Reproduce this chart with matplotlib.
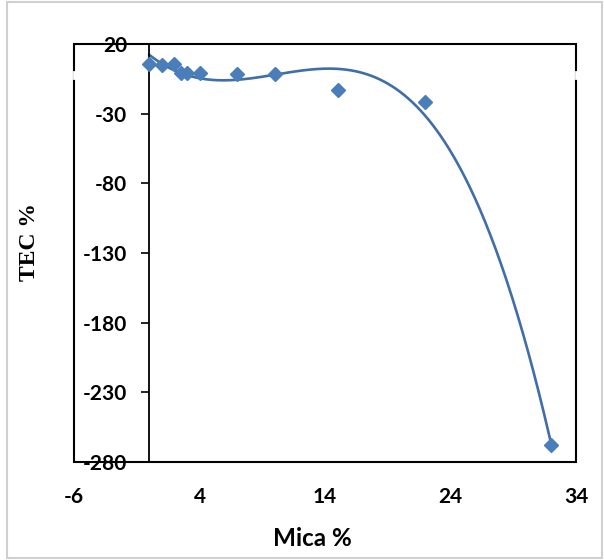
import numpy as np
import matplotlib.pyplot as plt
from matplotlib.patches import Rectangle

# data
mica = [0, 1, 2, 2.5, 3, 4, 7, 10, 15, 22, 32]
tec = [5.5, 5.0, 5.5, -0.5, -1.0, -1.0, -1.5, -1.5, -13.0, -21.5, -268.0]

x_ticks = [-6, 4, 14, 24, 34]
y_ticks = [20, -30, -80, -130, -180, -230, -280]

BLUE = "#4a7ebb"
LINE_BLUE = "#3f6ea8"


def plot_tec():
    fig = plt.figure(figsize=(6.04, 5.60), dpi=100)
    ax = fig.add_axes([74 / 604, 1 - 462 / 560, 502 / 604, 418 / 560])

    # polynomial trendline (like the spreadsheet one)
    coef = np.polyfit(mica, tec, 3)
    xs = np.linspace(min(mica), max(mica), 300)
    ax.plot(xs, np.polyval(coef, xs), color=LINE_BLUE, lw=1.9, zorder=2)

    ax.plot(mica, tec, linestyle="none", marker="D", markersize=7,
            color=BLUE, markeredgecolor=BLUE, zorder=3)

    ax.set_xlim(-6, 34)
    ax.set_ylim(-280, 20)
    ax.set_xticks(x_ticks)
    ax.set_yticks(y_ticks)
    ax.set_xticklabels([str(v) for v in x_ticks])
    ax.set_yticklabels([str(v) for v in y_ticks])

    # y axis crosses at x = 0, frame drawn around the plot area
    for s in ["top", "right", "bottom"]:
        ax.spines[s].set_visible(False)
    ax.spines["left"].set_position(("data", 0))
    ax.spines["left"].set_linewidth(1.3)
    ax.add_patch(Rectangle((0, 0), 1, 1, transform=ax.transAxes, fill=False,
                           edgecolor="black", lw=1.5, clip_on=False, zorder=4))
    # small white gaps where the hidden horizontal axis meets the frame
    ax.plot([-6, -6], [-4.5, 0], color="white", lw=2, clip_on=False, zorder=5)
    ax.plot([34, 34], [-4.5, 0], color="white", lw=2, clip_on=False, zorder=5)

    ax.tick_params(axis="y", direction="out", length=6, width=1.2, pad=10,
                   labelsize=15)
    ax.tick_params(axis="x", length=0, pad=18, labelsize=15)
    for lab in ax.get_xticklabels() + ax.get_yticklabels():
        lab.set_fontfamily("Lato")
        lab.set_fontweight("bold")

    fig.text(312 / 604, 1 - 538 / 560, "Mica %", ha="center", va="center",
             fontfamily="Lato", fontweight="bold", fontsize=17.5)
    fig.text(30 / 604, 1 - 242 / 560, "TEC %", rotation=90, ha="center",
             va="center", fontfamily="Liberation Serif", fontweight="bold",
             fontsize=17)

    # light border round the whole chart
    fig.patches.append(Rectangle((7 / 604, 2 / 560), 595 / 604, 556 / 560,
                                 transform=fig.transFigure, fill=False,
                                 edgecolor="#d0d0d0", lw=1.5))

    fig.savefig("out.png", dpi=100)


if __name__ == "__main__":
    plot_tec()
